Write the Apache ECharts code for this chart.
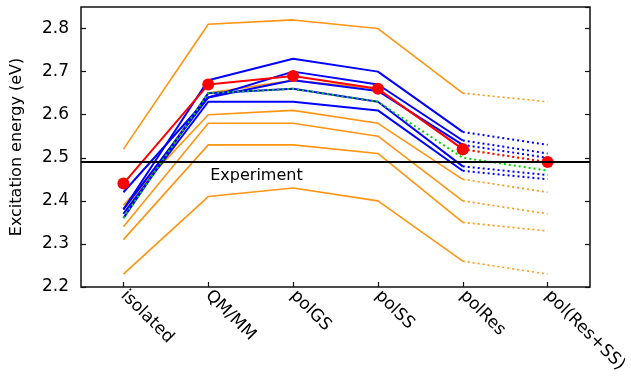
<!DOCTYPE html>
<html>
<head>
<meta charset="utf-8">
<script src="https://cdn.jsdelivr.net/npm/echarts@6/dist/echarts.min.js"></script>
<style>
  html, body { margin: 0; padding: 0; background: #fff; }
  #chart { width: 631px; height: 377px; }
</style>
</head>
<body>
<div id="chart"></div>
<script>
// categories on the x axis
const categories = ['isolated', 'QM/MM', 'polGS', 'polSS', 'polRes', 'pol(Res+SS)']

// excitation energies (eV)
const orangeLines = [
  [2.52, 2.81, 2.82, 2.80, 2.65, 2.63],
  [2.37, 2.65, 2.68, 2.66, 2.52, 2.49],
  [2.39, 2.60, 2.61, 2.58, 2.45, 2.42],
  [2.34, 2.58, 2.58, 2.55, 2.40, 2.37],
  [2.31, 2.53, 2.53, 2.51, 2.35, 2.33],
  [2.23, 2.41, 2.43, 2.40, 2.26, 2.23]
]
const blueLines = [
  [2.38, 2.68, 2.73, 2.70, 2.56, 2.53],
  [2.42, 2.64, 2.70, 2.67, 2.54, 2.51],
  [2.38, 2.64, 2.68, 2.655, 2.53, 2.50],
  [2.36, 2.65, 2.66, 2.63, 2.48, 2.46],
  [2.37, 2.63, 2.63, 2.61, 2.47, 2.45]
]
const greenLine = [2.36, 2.65, 2.66, 2.63, 2.50, 2.47]
const redLine = [2.44, 2.67, 2.69, 2.66, 2.52, 2.49]
const experiment = 2.49

// y axis range and step
const yMin = 2.2
const yMax = 2.85
const yStep = 0.1

const ORANGE = '#ff9410'
const BLUE = '#0000ff'
const GREEN = '#00d400'
const RED = '#ff0000'
const FONT = 'DejaVu Sans'

// solid up to polRes, dotted for the last step
const splitLine = (vals, color, width, extra) => {
  const solid = vals.map((v, i) => (i <= 4 ? v : '-'))
  const dotted = vals.map((v, i) => (i >= 4 ? v : '-'))
  return [
    Object.assign({
      type: 'line', data: solid, showSymbol: false, silent: true,
      lineStyle: { color, width, cap: 'butt' }
    }, extra || {}),
    Object.assign({
      type: 'line', data: dotted, showSymbol: false, silent: true,
      lineStyle: { color, width, type: [2, 3], cap: 'butt' }
    }, extra || {})
  ]
}

const series = []
orangeLines.forEach(l => series.push(...splitLine(l, ORANGE, 1.6)))
blueLines.forEach(l => series.push(...splitLine(l, BLUE, 2)))

// green is dotted all the way
series.push({
  type: 'line', data: greenLine, showSymbol: false, silent: true,
  lineStyle: { color: GREEN, width: 2, type: [2, 3], cap: 'butt' },
  markLine: {
    symbol: 'none', silent: true,
    lineStyle: { color: '#000', width: 2.2, type: 'solid' },
    label: { show: false },
    data: [{ yAxis: experiment }]
  },
  markPoint: {
    silent: true,
    symbol: 'circle', symbolSize: 0,
    data: [{
      coord: [1, experiment],
      label: {
        show: true, formatter: 'Experiment', position: [2, 6],
        align: 'left', verticalAlign: 'top',
        color: '#000', fontFamily: FONT, fontSize: 16
      }
    }]
  }
})

const redExtra = { symbol: 'circle', symbolSize: 12, itemStyle: { color: RED } }
const [redSolid, redDotted] = splitLine(redLine, RED, 2, redExtra)
redSolid.showSymbol = true
redDotted.showSymbol = true
series.push(redSolid, redDotted)

const chart = echarts.init(document.getElementById('chart'))
chart.setOption({
  animation: false,
  backgroundColor: '#fff',
  grid: {
    left: 81, right: 41, top: 7, bottom: 90,
    show: true, borderColor: '#111', borderWidth: 1.5
  },
  xAxis: {
    type: 'category',
    data: categories,
    boundaryGap: true,
    axisLine: { show: false },
    axisTick: { show: true, inside: true, length: 5, alignWithLabel: true, lineStyle: { color: '#111', width: 1.2 } },
    axisLabel: {
      interval: 0, rotate: -45, margin: 6,
      color: '#000', fontFamily: FONT, fontSize: 17
    },
    splitLine: { show: false }
  },
  yAxis: [
    {
      type: 'value', min: yMin, max: yMax, interval: yStep,
      name: 'Excitation energy (eV)', nameLocation: 'middle', nameGap: 56,
      nameTextStyle: { color: '#000', fontFamily: FONT, fontSize: 16 },
      axisLine: { show: false },
      axisTick: { show: true, inside: true, length: 5, lineStyle: { color: '#111', width: 1.2 } },
      axisLabel: {
        showMaxLabel: false, margin: 12,
        color: '#000', fontFamily: FONT, fontSize: 17,
        formatter: v => v.toFixed(1)
      },
      splitLine: { show: false }
    },
    {
      type: 'value', min: yMin, max: yMax, interval: yStep, position: 'right',
      axisLine: { show: false },
      axisTick: { show: true, inside: true, length: 5, lineStyle: { color: '#111', width: 1.2 } },
      axisLabel: { show: false },
      splitLine: { show: false }
    }
  ],
  series
})
</script>
</body>
</html>
